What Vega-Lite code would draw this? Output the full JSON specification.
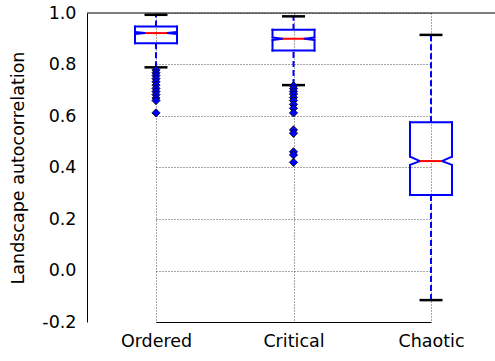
{
  "$schema": "https://vega.github.io/schema/vega-lite/v6.json",
  "autosize": "none",
  "padding": {"left": 87, "top": 13, "right": 0, "bottom": 39},
  "width": 408,
  "height": 309,
  "background": "white",
  "config": {
    "view": {"stroke": null},
    "font": "DejaVu Sans",
    "axis": {"labelFont": "DejaVu Sans", "titleFont": "DejaVu Sans", "labelColor": "#000", "titleColor": "#000", "domainColor": "#000", "domainWidth": 1, "gridColor": "#222", "gridDash": [1, 2], "gridOpacity": 0.8, "gridWidth": 1, "ticks": false}
  },
  "datasets": {
    "stats": [
      {"group": "Ordered", "wlo": 0.789, "q1": 0.883, "nlo": 0.918, "med": 0.922, "nhi": 0.926, "q3": 0.948, "whi": 0.993},
      {"group": "Critical", "wlo": 0.720, "q1": 0.854, "nlo": 0.895, "med": 0.900, "nhi": 0.905, "q3": 0.935, "whi": 0.987},
      {"group": "Chaotic", "wlo": -0.115, "q1": 0.293, "nlo": 0.410, "med": 0.425, "nhi": 0.442, "q3": 0.576, "whi": 0.915}
    ],
    "outliers": [
      {"group": "Ordered", "value": 0.779}, {"group": "Ordered", "value": 0.768}, {"group": "Ordered", "value": 0.757},
      {"group": "Ordered", "value": 0.745}, {"group": "Ordered", "value": 0.733}, {"group": "Ordered", "value": 0.720},
      {"group": "Ordered", "value": 0.707}, {"group": "Ordered", "value": 0.695}, {"group": "Ordered", "value": 0.683},
      {"group": "Ordered", "value": 0.670}, {"group": "Ordered", "value": 0.660}, {"group": "Ordered", "value": 0.612},
      {"group": "Critical", "value": 0.717}, {"group": "Critical", "value": 0.706}, {"group": "Critical", "value": 0.695},
      {"group": "Critical", "value": 0.685}, {"group": "Critical", "value": 0.672}, {"group": "Critical", "value": 0.660},
      {"group": "Critical", "value": 0.645}, {"group": "Critical", "value": 0.630}, {"group": "Critical", "value": 0.612},
      {"group": "Critical", "value": 0.546}, {"group": "Critical", "value": 0.533}, {"group": "Critical", "value": 0.461},
      {"group": "Critical", "value": 0.449}, {"group": "Critical", "value": 0.420}
    ]
  },
  "layer": [
    {
      "data": {"name": "stats"},
      "mark": {"type": "rule", "strokeWidth": 2, "strokeDash": [6, 3], "color": "#0000ff"},
      "encoding": {
        "x": {"field": "group", "type": "nominal", "sort": ["Ordered", "Critical", "Chaotic"], "scale": {"type": "point", "range": [69, 344], "padding": 0},
              "axis": {"title": null, "labelFontSize": 17.5, "labelPadding": 10, "labelAngle": 0, "grid": true}},
        "y": {"field": "q3", "type": "quantitative", "scale": {"domain": [-0.2, 1.0], "nice": false, "zero": false},
              "axis": {"title": "Landscape autocorrelation", "titleFontSize": 17.5, "titleFontWeight": "normal", "labelFontSize": 17.5, "labelPadding": 11, "titlePadding": 14,
                       "values": [-0.2, 0, 0.2, 0.4, 0.6, 0.8, 1.0], "grid": true,
                       "labelExpr": "datum.value < 0 ? '-' + format(-datum.value, '.1f') : format(datum.value, '.1f')"}},
        "y2": {"field": "whi"}
      }
    },
    {
      "data": {"name": "stats"},
      "mark": {"type": "rule", "strokeWidth": 2, "strokeDash": [6, 3], "color": "#0000ff"},
      "encoding": {
        "x": {"field": "group", "type": "nominal", "sort": ["Ordered", "Critical", "Chaotic"]},
        "y": {"field": "wlo", "type": "quantitative"},
        "y2": {"field": "q1"}
      }
    },
    {
      "data": {"name": "stats"},
      "mark": {"type": "rule", "strokeWidth": 2.5, "color": "#000", "xOffset": -11.5, "x2Offset": 11.5},
      "encoding": {
        "x": {"field": "group", "type": "nominal", "sort": ["Ordered", "Critical", "Chaotic"]},
        "x2": {"field": "group"},
        "y": {"field": "whi", "type": "quantitative"}
      }
    },
    {
      "data": {"name": "stats"},
      "mark": {"type": "rule", "strokeWidth": 2.5, "color": "#000", "xOffset": -11.5, "x2Offset": 11.5},
      "encoding": {
        "x": {"field": "group", "type": "nominal", "sort": ["Ordered", "Critical", "Chaotic"]},
        "x2": {"field": "group"},
        "y": {"field": "wlo", "type": "quantitative"}
      }
    },
    {
      "data": {"name": "stats"},
      "mark": {"type": "rule", "strokeWidth": 2, "color": "#0000ff", "xOffset": -21, "x2Offset": 21, "strokeCap": "square"},
      "encoding": {
        "x": {"field": "group", "type": "nominal", "sort": ["Ordered", "Critical", "Chaotic"]},
        "x2": {"field": "group"},
        "y": {"field": "q3", "type": "quantitative"}
      }
    },
    {
      "data": {"name": "stats"},
      "mark": {"type": "rule", "strokeWidth": 2, "color": "#0000ff", "xOffset": -21, "x2Offset": 21, "strokeCap": "square"},
      "encoding": {
        "x": {"field": "group", "type": "nominal", "sort": ["Ordered", "Critical", "Chaotic"]},
        "x2": {"field": "group"},
        "y": {"field": "q1", "type": "quantitative"}
      }
    },
    {
      "data": {"name": "stats"},
      "mark": {"type": "rule", "strokeWidth": 2, "color": "#0000ff", "xOffset": -21, "strokeCap": "square"},
      "encoding": {
        "x": {"field": "group", "type": "nominal", "sort": ["Ordered", "Critical", "Chaotic"]},
        "y": {"field": "nhi", "type": "quantitative"},
        "y2": {"field": "q3"}
      }
    },
    {
      "data": {"name": "stats"},
      "mark": {"type": "rule", "strokeWidth": 2, "color": "#0000ff", "xOffset": 21, "strokeCap": "square"},
      "encoding": {
        "x": {"field": "group", "type": "nominal", "sort": ["Ordered", "Critical", "Chaotic"]},
        "y": {"field": "nhi", "type": "quantitative"},
        "y2": {"field": "q3"}
      }
    },
    {
      "data": {"name": "stats"},
      "mark": {"type": "rule", "strokeWidth": 2, "color": "#0000ff", "xOffset": -21, "strokeCap": "square"},
      "encoding": {
        "x": {"field": "group", "type": "nominal", "sort": ["Ordered", "Critical", "Chaotic"]},
        "y": {"field": "q1", "type": "quantitative"},
        "y2": {"field": "nlo"}
      }
    },
    {
      "data": {"name": "stats"},
      "mark": {"type": "rule", "strokeWidth": 2, "color": "#0000ff", "xOffset": 21, "strokeCap": "square"},
      "encoding": {
        "x": {"field": "group", "type": "nominal", "sort": ["Ordered", "Critical", "Chaotic"]},
        "y": {"field": "q1", "type": "quantitative"},
        "y2": {"field": "nlo"}
      }
    },
    {
      "data": {"name": "stats"},
      "mark": {"type": "rule", "strokeWidth": 2, "color": "#0000ff", "xOffset": -21, "x2Offset": -11, "strokeCap": "round"},
      "encoding": {
        "x": {"field": "group", "type": "nominal", "sort": ["Ordered", "Critical", "Chaotic"]},
        "x2": {"field": "group"},
        "y": {"field": "nhi", "type": "quantitative"},
        "y2": {"field": "med"}
      }
    },
    {
      "data": {"name": "stats"},
      "mark": {"type": "rule", "strokeWidth": 2, "color": "#0000ff", "xOffset": -21, "x2Offset": -11, "strokeCap": "round"},
      "encoding": {
        "x": {"field": "group", "type": "nominal", "sort": ["Ordered", "Critical", "Chaotic"]},
        "x2": {"field": "group"},
        "y": {"field": "nlo", "type": "quantitative"},
        "y2": {"field": "med"}
      }
    },
    {
      "data": {"name": "stats"},
      "mark": {"type": "rule", "strokeWidth": 2, "color": "#0000ff", "xOffset": 21, "x2Offset": 11, "strokeCap": "round"},
      "encoding": {
        "x": {"field": "group", "type": "nominal", "sort": ["Ordered", "Critical", "Chaotic"]},
        "x2": {"field": "group"},
        "y": {"field": "nhi", "type": "quantitative"},
        "y2": {"field": "med"}
      }
    },
    {
      "data": {"name": "stats"},
      "mark": {"type": "rule", "strokeWidth": 2, "color": "#0000ff", "xOffset": 21, "x2Offset": 11, "strokeCap": "round"},
      "encoding": {
        "x": {"field": "group", "type": "nominal", "sort": ["Ordered", "Critical", "Chaotic"]},
        "x2": {"field": "group"},
        "y": {"field": "nlo", "type": "quantitative"},
        "y2": {"field": "med"}
      }
    },
    {
      "data": {"name": "stats"},
      "mark": {"type": "rule", "strokeWidth": 2, "color": "#ff0000", "xOffset": -11, "x2Offset": 11},
      "encoding": {
        "x": {"field": "group", "type": "nominal", "sort": ["Ordered", "Critical", "Chaotic"]},
        "x2": {"field": "group"},
        "y": {"field": "med", "type": "quantitative"}
      }
    },
    {
      "data": {"name": "outliers"},
      "mark": {"type": "point", "shape": "diamond", "filled": true, "fill": "#0000ff", "stroke": "#000", "strokeWidth": 0.8, "size": 68, "opacity": 1},
      "encoding": {
        "x": {"field": "group", "type": "nominal", "sort": ["Ordered", "Critical", "Chaotic"]},
        "y": {"field": "value", "type": "quantitative"}
      }
    },
    {
      "data": {"values": [{}]},
      "mark": {"type": "rule", "color": "#000", "strokeWidth": 1},
      "encoding": {
        "y": {"datum": 1.0, "type": "quantitative"}
      }
    }
  ]
}
